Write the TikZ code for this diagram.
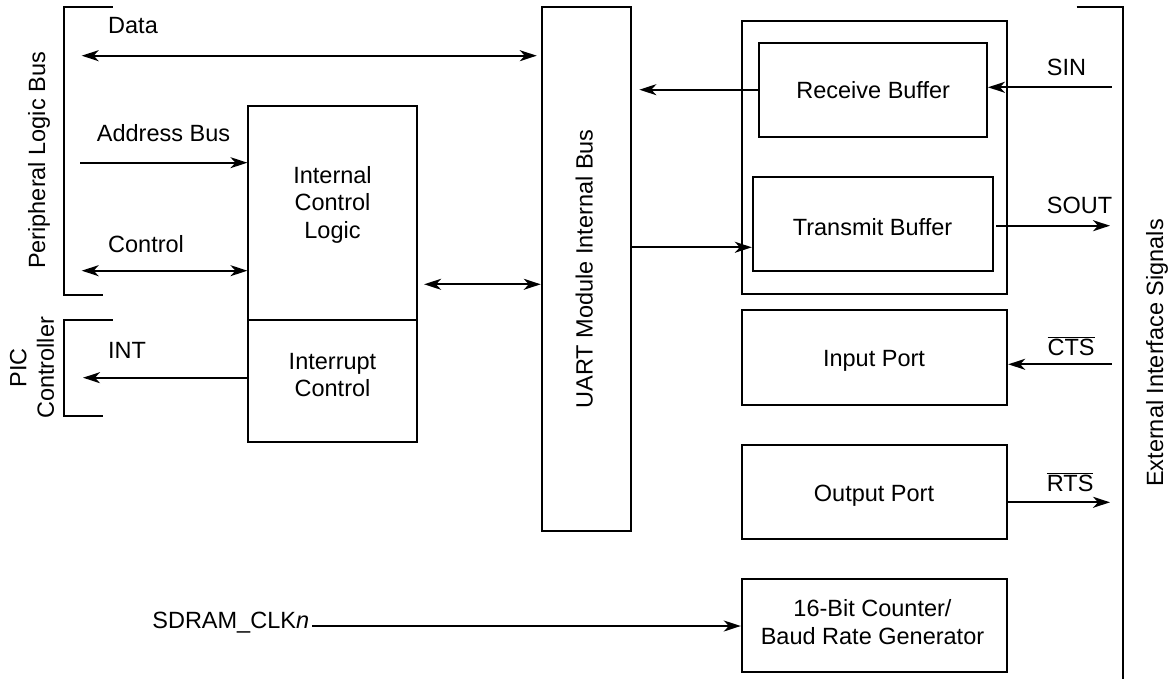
\documentclass[tikz,border=0pt]{standalone}
\usepackage{fontspec}
\setmainfont{Liberation Sans}
\usetikzlibrary{arrows.meta}
\newcommand{\dfont}{\fontsize{23.5}{27.5}\selectfont}
\begin{document}
\begin{tikzpicture}[x=1pt,y=-1pt, line width=1.8pt,
  box/.style={draw, line width=1.8pt, inner sep=0pt},
  lbl/.style={inner sep=0pt, font=\dfont, align=center},
  arr/.style={-{Stealth[length=17pt,width=11pt,inset=5pt]}},
  darr/.style={{Stealth[length=17pt,width=11pt,inset=5pt]}-{Stealth[length=17pt,width=11pt,inset=5pt]}}]
\useasboundingbox (0,0) rectangle (1169,679);

% boxes
\node[box, minimum width=168.4, minimum height=214] (icl) at (332.5,213) {};
\node[box, minimum width=168.4, minimum height=121.7] (ic) at (332.5,380.8) {};
\node[box, minimum width=89.3, minimum height=523.7] (uart) at (586.3,269.2) {};
\node[box, minimum width=265.6, minimum height=273.3] (rt) at (874.5,157.3) {};
\node[box, minimum width=227.7, minimum height=94] (rb) at (873.2,89.7) {};
\node[box, minimum width=240.6, minimum height=94] (tb) at (873,223.7) {};
\node[box, minimum width=265.6, minimum height=95] (inp) at (874.5,357.5) {};
\node[box, minimum width=265.6, minimum height=94] (outp) at (874.5,492) {};
\node[box, minimum width=265.6, minimum height=93.3] (cnt) at (874.5,625.7) {};

% brackets
\draw (112.7,7.3) -- (64,7.3) -- (64,295) -- (102.7,295);
\draw (112.7,320) -- (64,320) -- (64,416) -- (102.7,416);
\draw (1076.7,7.3) -- (1122.7,7.3) -- (1122.7,680);

% labels
\node[lbl, anchor=base west] (data) at (107.3,33.3) {Data};
\node[lbl, anchor=base west] (addr) at (96,141.7) {Address Bus};
\node[lbl, anchor=base west] (ctl) at (107.3,252.3) {Control};
\node[lbl, anchor=base west] (int) at (107.3,358.3) {INT};
\node[lbl, rotate=90, anchor=base] (plb) at (45,160.5) {Peripheral Logic Bus};
\node[lbl, rotate=90] (pic) at (32,368) {PIC\\Controller};
\node[lbl] (icltxt) at (332.5,204.5) {Internal\\Control\\Logic};
\node[lbl] (ictxt) at (332.5,375.2) {Interrupt\\Control};
\node[lbl, rotate=90, anchor=base] (uarttxt) at (592.7,269) {UART Module Internal Bus};
\node[lbl, anchor=base] (rbtxt) at (873.2,98.3) {Receive Buffer};
\node[lbl, anchor=base] (tbtxt) at (872.5,235) {Transmit Buffer};
\node[lbl, anchor=base] (inptxt) at (874,366) {Input Port};
\node[lbl, anchor=base] (outptxt) at (874,501) {Output Port};
\node[lbl] (cnttxt) at (872.5,622) {16-Bit Counter/\\Baud Rate Generator};
\node[lbl, anchor=base west] (sinl) at (1046,76) {SIN};
\node[lbl, anchor=base west] (soutl) at (1046,214) {SOUT};
\node[lbl, anchor=base west] (ctsl) at (1046.7,355) {$\overline{\mbox{CTS}}$};
\node[lbl, anchor=base west] (rtsl) at (1046,491) {$\overline{\mbox{RTS}}$};
\node[lbl, anchor=base east] (clkl) at (310,628.3) {SDRAM\_CLK\textit{n}};
\node[lbl, rotate=90, anchor=base] (ext) at (1163,353) {External Interface Signals};

% connectors
\coordinate (dataL) at (81.7,55.7);
\draw[darr, shorten >=4pt] (dataL) -- (dataL -| uart.west);
\coordinate (addrL) at (80,162.7);
\draw[arr] (addrL) -- (addrL -| icl.west);
\coordinate (ctlL) at (81.7,270.7);
\draw[darr] (ctlL) -- (ctlL -| icl.west);
\coordinate (intL) at (83,377.7);
\draw[arr] (intL -| ic.west) -- (intL);
\coordinate (ib) at (424,284.3);
\draw[darr, shorten <=6.5pt] (ib -| icl.east) -- (ib -| uart.west);
\draw[arr, shorten >=7.5pt] (rb.west) -- (rb.west -| uart.east);
\coordinate (tx) at (700,247.3);
\draw[arr] (tx -| uart.east) -- (tx -| tb.west);
\coordinate (sin) at (1111.7,87.3);
\draw[arr] (sin) -- (sin -| rb.east);
\coordinate (sout) at (1110,225.7);
\draw[arr, shorten <=2pt] (sout -| tb.east) -- (sout);
\coordinate (cts) at (1111.7,364.3);
\draw[arr] (cts) -- (cts -| inp.east);
\coordinate (rts) at (1110,502.3);
\draw[arr] (rts -| outp.east) -- (rts);
\coordinate (clk) at (312,626);
\draw[arr] (clk) -- (clk -| cnt.west);
\end{tikzpicture}
\end{document}
